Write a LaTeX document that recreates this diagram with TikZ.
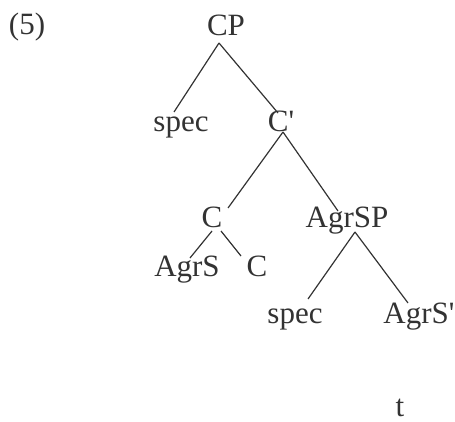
\documentclass[tikz,border=0pt]{standalone}
\usepackage{fontspec}
\setmainfont{Liberation Serif}
\newfontfamily\tickfont{Liberation Serif}
\newcommand{\tck}{{\tickfont\char"27}}
\usetikzlibrary{calc}
\begin{document}
\begin{tikzpicture}[x=1pt,y=-1pt,
  lab/.style={anchor=base,inner sep=0pt,text=black!80,font=\fontsize{31}{36}\selectfont},
  edge/.style={draw=black!80,line width=1.2pt}]
\useasboundingbox (0,0) rectangle (455,422);
\node[lab] (ex) at (27,35) {(5)};
\node[lab] (CP) at (226,36) {CP};
\node[lab] (spec1) at (181,132) {spec};
\node[lab] (Cbar) at (281,132) {C\tck};
\node[lab] (C) at (212,227) {C};
\node[lab] (AgrSP) at (347,227) {AgrSP};
\node[lab] (AgrS) at (187,276) {AgrS};
\node[lab] (C2) at (257,276) {C};
\node[lab] (spec2) at (295,323) {spec};
\node[lab] (AgrSbar) at (419,323) {AgrS\tck};
\node[lab] (t) at (400,416) {t};
\draw[edge] ($(CP.base)+(-7,7)$) -- ($(spec1.base)+(-7,-20)$);
\draw[edge] ($(CP.base)+(-7,7)$) -- ($(Cbar.base)+(-3,-19)$);
\draw[edge] ($(Cbar.base)+(2,0)$) -- ($(C.base)+(16,-19)$);
\draw[edge] ($(Cbar.base)+(2,0)$) -- ($(AgrSP.base)+(-9,-16)$);
\draw[edge] ($(C.base)+(0,4)$) -- ($(AgrS.base)+(3,-18)$);
\draw[edge] ($(C.base)+(9,4)$) -- ($(C2.base)+(-16,-20)$);
\draw[edge] ($(AgrSP.base)+(8,5)$) -- ($(spec2.base)+(13,-24)$);
\draw[edge] ($(AgrSP.base)+(8,5)$) -- ($(AgrSbar.base)+(-11,-20)$);
\end{tikzpicture}
\end{document}
